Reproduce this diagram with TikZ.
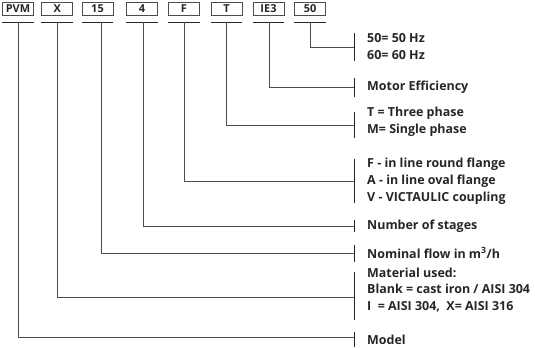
\documentclass[tikz,border=0pt]{standalone}
\usepackage{fontspec}
\setmainfont{Open Sans}
\begin{document}
\begin{tikzpicture}[x=1bp,y=-1bp,
  codebox/.style={draw=black!70,line width=0.8pt,minimum width=31bp,minimum height=12.5bp,inner sep=0pt,font=\bfseries\fontsize{11}{12}\selectfont,text=black!85},
  uline/.style={draw=black!85,line width=0.7pt},
  conn/.style={draw=black!70,line width=0.7pt},
  tick/.style={draw=black!85,line width=0.7pt},
  desc/.style={anchor=west,align=left,inner sep=0pt,font=\bfseries\fontsize{12.5}{17}\selectfont,text=black!85}]
\useasboundingbox (0,0) rectangle (535,347);
% code boxes
\node[codebox] (pvm) at (18,9) {PVM};
\node[codebox] (x) at (57.3,9) {X};
\node[codebox] (fifteen) at (97.5,9) {15};
\node[codebox] (four) at (142,9) {4};
\node[codebox] (f) at (184,9) {F};
\node[codebox] (t) at (226.5,9) {T};
\node[codebox] (ie) at (268.5,9) {IE3};
\node[codebox] (fifty) at (310,9) {50};
% underline anchors
\coordinate (pvm-u) at (18,22);
\coordinate (x-u) at (57.3,22);
\coordinate (fifteen-u) at (101,22);
\coordinate (four-u) at (143.3,22);
\coordinate (f-u) at (184.3,22);
\coordinate (t-u) at (226,22);
\coordinate (ie-u) at (269,22);
\coordinate (fifty-u) at (310,22);
\foreach \n in {pvm,x,fifteen,four,f,t,ie,fifty}{
  \draw[uline] ([xshift=-16]\n.south |- \n-u) -- ([xshift=16]\n.south |- \n-u);
}
% tick coordinates
\coordinate (k50) at (354,47);
\coordinate (kie) at (354,87);
\coordinate (kt) at (354,125);
\coordinate (kf) at (354,181);
\coordinate (k4) at (354,226);
\coordinate (k15) at (354,253);
\coordinate (kx) at (354,297);
\coordinate (kpvm) at (354,337.5);
% ticks
\draw[tick] (354,33) -- (354,61);
\draw[tick] (354,78) -- (354,97);
\draw[tick] (354,112) -- (354,138);
\draw[tick] (354,159) -- (354,203);
\draw[tick] (354,220) -- (354,232);
\draw[tick] (354,245) -- (354,262);
\draw[tick] (354,272) -- (354,320);
\draw[tick] (354,332) -- (354,347);
% connectors
\draw[conn] (fifty-u) |- (k50);
\draw[conn] (ie-u) |- (kie);
\draw[conn] (t-u) |- (kt);
\draw[conn] (f-u) |- (kf);
\draw[conn] (four-u) |- (k4);
\draw[conn] (fifteen-u) |- (k15);
\draw[conn] (x-u) |- (kx);
\draw[conn] (pvm-u) |- (kpvm);
% descriptions
\node[desc] (d50) at (367,46.5) {50= 50 Hz\\60= 60 Hz};
\node[desc] (die) at (367,87) {Motor Efficiency};
\node[desc] (dt) at (367,121.5) {T = Three phase\\M= Single phase};
\node[desc] (df) at (367,181.5) {F - in line round flange\\A - in line oval flange\\V - VICTAULIC coupling};
\node[desc] (d4) at (367,226) {Number of stages};
\node[desc] (d15) at (367,253) {Nominal flow in m\textsuperscript{3}/h};
\node[desc] (dx) at (367,290) {Material used:\\Blank = cast iron / AISI 304\\I \ = AISI 304, \ X= AISI 316};
\node[desc] (dpvm) at (367,340) {Model};
\end{tikzpicture}
\end{document}
